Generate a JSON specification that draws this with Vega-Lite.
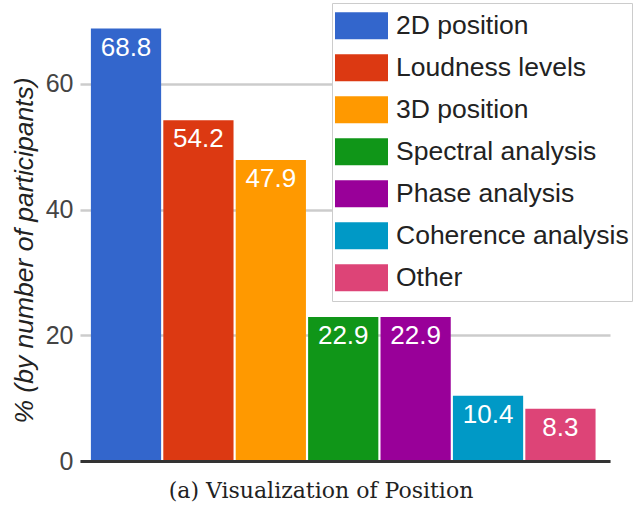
{
  "$schema": "https://vega.github.io/schema/vega-lite/v6.json",
  "autosize": {"type": "none"},
  "width": 530,
  "height": 440,
  "padding": {"left": 80, "top": 21, "right": 24, "bottom": 47},
  "background": "white",
  "view": {"stroke": null},
  "title": {
    "text": "(a) Visualization of Position",
    "orient": "bottom",
    "anchor": "middle",
    "frame": "group",
    "dx": -24,
    "offset": 7,
    "font": "DejaVu Serif",
    "fontSize": 22,
    "fontWeight": "normal",
    "color": "#222222"
  },
  "data": {
    "values": [
      {"category": "2D position", "value": 68.8},
      {"category": "Loudness levels", "value": 54.2},
      {"category": "3D position", "value": 47.9},
      {"category": "Spectral analysis", "value": 22.9},
      {"category": "Phase analysis", "value": 22.9},
      {"category": "Coherence analysis", "value": 10.4},
      {"category": "Other", "value": 8.3}
    ]
  },
  "encoding": {
    "x": {
      "field": "category",
      "type": "nominal",
      "sort": null,
      "scale": {"paddingInner": 0.03, "paddingOuter": 0.175, "align": 0.43},
      "axis": {
        "title": null,
        "labels": false,
        "ticks": false,
        "grid": false,
        "domain": true,
        "domainColor": "#333333",
        "domainWidth": 3,
        "zindex": 1
      }
    },
    "y": {
      "field": "value",
      "type": "quantitative",
      "scale": {"domain": [0, 70], "nice": false},
      "axis": {
        "values": [0, 20, 40, 60],
        "title": "% (by number of participants)",
        "titleFont": "Liberation Sans",
        "titleFontSize": 26.5,
        "titleFontStyle": "italic",
        "titleFontWeight": "normal",
        "titleColor": "#222222",
        "titleX": -56,
        "titleY": 229,
        "titleAngle": 270,
        "titleAlign": "center",
        "titleBaseline": "middle",
        "domain": false,
        "ticks": false,
        "grid": true,
        "gridColor": "#cccccc",
        "gridWidth": 2.5,
        "labelFont": "Liberation Sans",
        "labelFontSize": 25,
        "labelColor": "#444444",
        "labelPadding": 7
      }
    }
  },
  "layer": [
    {
      "mark": {"type": "bar"},
      "encoding": {
        "color": {
          "field": "category",
          "type": "nominal",
          "sort": null,
          "scale": {
            "domain": ["2D position", "Loudness levels", "3D position", "Spectral analysis", "Phase analysis", "Coherence analysis", "Other"],
            "range": ["#3366cc", "#dc3912", "#ff9900", "#109618", "#990099", "#0099c6", "#dd4477"]
          },
          "legend": {
            "title": null,
            "orient": "none",
            "legendX": 252,
            "legendY": -18,
            "padding": 3,
            "fillColor": "white",
            "strokeColor": "#cccccc",
            "symbolType": "M-1,-0.51H1V0.51H-1Z",
            "symbolSize": 2809,
            "symbolStrokeWidth": 0,
            "clipHeight": 39.7,
            "rowPadding": 2,
            "labelOffset": 8,
            "labelFont": "Liberation Sans",
            "labelFontSize": 26.5,
            "labelColor": "#222222",
            "labelLimit": 400
          }
        }
      }
    },
    {
      "mark": {
        "type": "text",
        "color": "white",
        "font": "Liberation Sans",
        "fontSize": 26,
        "align": "center",
        "baseline": "alphabetic",
        "dy": 27
      },
      "encoding": {
        "text": {"field": "value", "type": "quantitative", "format": ".1f"}
      }
    }
  ]
}
